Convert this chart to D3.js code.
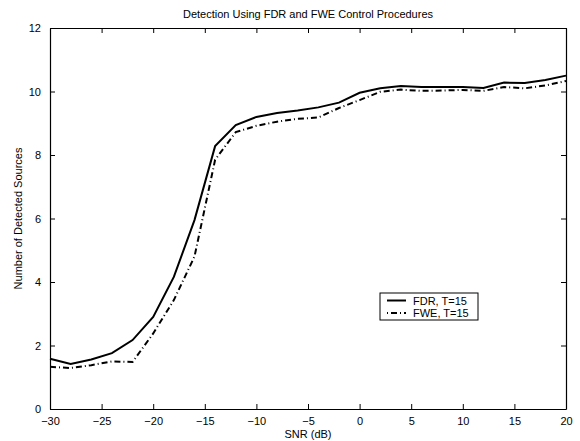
<!DOCTYPE html>
<html>
<head>
<meta charset="utf-8">
<script src="https://cdn.jsdelivr.net/npm/d3@7"></script>
<style>
  body { margin: 0; background: #fff; }
  text { font-family: "Liberation Sans", Arial, sans-serif; }
</style>
</head>
<body>
<div id="chart"></div>
<script>
// chart values
const snr = [-30, -28, -26, -24, -22, -20, -18, -16, -14, -12, -10, -8, -6, -4, -2, 0, 2, 4, 6, 8, 10, 12, 14, 16, 18, 20];
const fdr = [1.58, 1.42, 1.56, 1.76, 2.17, 2.9, 4.16, 5.95, 8.28, 8.94, 9.2, 9.32, 9.4, 9.5, 9.65, 9.96, 10.1, 10.17, 10.14, 10.14, 10.14, 10.11, 10.28, 10.27, 10.36, 10.5];
const fwe = [1.33, 1.29, 1.38, 1.5, 1.48, 2.38, 3.43, 4.8, 7.85, 8.72, 8.92, 9.05, 9.14, 9.18, 9.48, 9.73, 9.99, 10.06, 10.02, 10.03, 10.05, 10.02, 10.14, 10.1, 10.19, 10.33];
const xTicks = [-30, -25, -20, -15, -10, -5, 0, 5, 10, 15, 20];
const yTicks = [0, 2, 4, 6, 8, 10, 12];
const seriesNames = ["FDR, T=15", "FWE, T=15"];

const width = 580, height = 441;
const margin = {top: 28, right: 14, bottom: 32, left: 50};
const w = width - margin.left - margin.right;
const h = height - margin.top - margin.bottom;

let svg = d3.select("#chart")
    .append("svg")
    .attr("width", width)
    .attr("height", height)
    .append("g")
    .attr("transform", `translate(${margin.left}, ${margin.top})`);

const x = d3.scaleLinear().domain([-30, 20]).range([0, w]);
const y = d3.scaleLinear().domain([0, 12]).range([h, 0]);

const fmt = d => d < 0 ? "\u2212" + Math.abs(d) : String(d);

// axes with inward ticks on all four sides
svg.append("g")
    .attr("transform", `translate(0, ${h})`)
    .call(d3.axisBottom(x).tickValues(xTicks).tickSizeInner(-5).tickSizeOuter(0).tickPadding(8).tickFormat(fmt));
svg.append("g")
    .call(d3.axisTop(x).tickValues(xTicks).tickSizeInner(-5).tickSizeOuter(0).tickFormat(""));
svg.append("g")
    .call(d3.axisLeft(y).tickValues(yTicks).tickSizeInner(-5).tickSizeOuter(0).tickPadding(9));
svg.append("g")
    .attr("transform", `translate(${w}, 0)`)
    .call(d3.axisRight(y).tickValues(yTicks).tickSizeInner(-5).tickSizeOuter(0).tickFormat(""));

svg.selectAll(".domain").attr("stroke", "#000").attr("stroke-width", 1.2);
svg.selectAll(".tick line").attr("stroke", "#000");
svg.selectAll(".tick text").style("font-size", "11px").attr("fill", "#000");

// lines
const line = vals => d3.line()
    .x((d, i) => x(snr[i]))
    .y(d => y(d))(vals);

svg.append("path")
    .attr("d", line(fdr))
    .attr("fill", "none")
    .attr("stroke", "#000")
    .attr("stroke-width", 2);

svg.append("path")
    .attr("d", line(fwe))
    .attr("fill", "none")
    .attr("stroke", "#000")
    .attr("stroke-width", 2)
    .attr("stroke-dasharray", "6,3,1,3");

// title and labels
svg.append("text")
    .attr("x", w / 2)
    .attr("y", -10)
    .style("text-anchor", "middle")
    .style("font-size", "11px")
    .text("Detection Using FDR and FWE Control Procedures");

svg.append("text")
    .attr("x", w / 2)
    .attr("y", h + 29)
    .style("text-anchor", "middle")
    .style("font-size", "11px")
    .text("SNR (dB)");

svg.append("text")
    .attr("transform", `translate(-28, ${h / 2}) rotate(-90)`)
    .style("text-anchor", "middle")
    .style("font-size", "11px")
    .text("Number of Detected Sources");

// legend
const legend = svg.append("g")
    .attr("transform", `translate(${380 - margin.left}, ${293 - margin.top})`);
legend.append("rect")
    .attr("width", 98)
    .attr("height", 27)
    .attr("fill", "#fff")
    .attr("stroke", "#000")
    .attr("stroke-width", 1);

seriesNames.forEach((name, i) => {
    const ly = 7.5 + i * 12.5;
    legend.append("line")
        .attr("x1", 7).attr("x2", 26)
        .attr("y1", ly).attr("y2", ly)
        .attr("stroke", "#000")
        .attr("stroke-width", 2)
        .attr("stroke-dasharray", i === 1 ? "1,3,6,3" : null);
    legend.append("text")
        .attr("x", 33)
        .attr("y", ly + 4)
        .style("font-size", "11px")
        .text(name);
});
</script>
</body>
</html>
